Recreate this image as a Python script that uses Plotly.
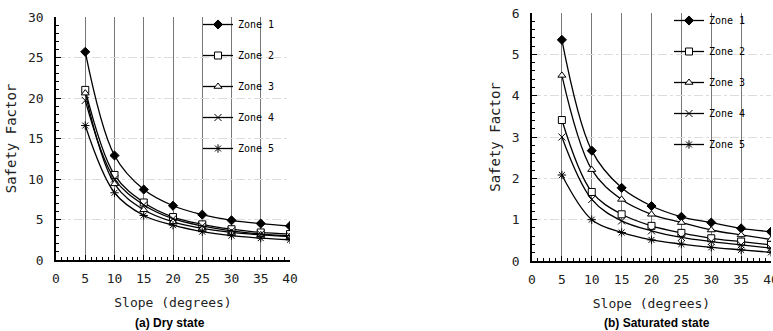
import plotly.graph_objects as go

slope = [5, 10, 15, 20, 25, 30, 35, 40]
zones = ["Zone 1", "Zone 2", "Zone 3", "Zone 4", "Zone 5"]

dry = {
    "Zone 1": [25.7, 12.9, 8.7, 6.7, 5.6, 4.9, 4.5, 4.2],
    "Zone 2": [21.0, 10.5, 7.1, 5.3, 4.4, 3.8, 3.4, 3.2],
    "Zone 3": [20.6, 9.4, 6.2, 4.7, 3.9, 3.4, 3.1, 2.9],
    "Zone 4": [19.7, 10.0, 6.8, 5.1, 4.2, 3.6, 3.2, 3.0],
    "Zone 5": [16.6, 8.3, 5.5, 4.3, 3.5, 3.0, 2.7, 2.5],
}
saturated = {
    "Zone 1": [5.35, 2.67, 1.77, 1.33, 1.07, 0.93, 0.79, 0.71],
    "Zone 2": [3.41, 1.67, 1.13, 0.85, 0.68, 0.55, 0.47, 0.39],
    "Zone 3": [4.49, 2.21, 1.49, 1.13, 0.93, 0.75, 0.63, 0.52],
    "Zone 4": [3.00, 1.49, 0.97, 0.73, 0.57, 0.47, 0.39, 0.31],
    "Zone 5": [2.08, 1.00, 0.69, 0.51, 0.41, 0.33, 0.27, 0.21],
}

x_ticks = [0, 5, 10, 15, 20, 25, 30, 35, 40]
dry_ticks = [0, 5, 10, 15, 20, 25, 30]
sat_ticks = [0, 1, 2, 3, 4, 5, 6]

symbols = {
    "Zone 1": ("diamond", "black"),
    "Zone 2": ("square", "white"),
    "Zone 3": ("triangle-up", "white"),
    "Zone 4": ("x-thin-open", "black"),
    "Zone 5": ("asterisk-open", "black"),
}

W, H = 773, 331
def px(x):
    return x / W
def py(y):
    return 1 - y / H

fig = go.Figure()
for panel, data, xa, ya, leg in [(0, dry, "x", "y", "legend"), (1, saturated, "x2", "y2", "legend2")]:
    for z in zones:
        sym, fill = symbols[z]
        fig.add_trace(go.Scatter(
            x=slope, y=data[z], name=z, mode="lines+markers",
            xaxis=xa, yaxis=ya, legend=leg, legendgroup=f"{panel}{z}",
            line=dict(color="black", width=1.3, shape="spline", smoothing=1.0),
            marker=dict(symbol=sym, size=7, color=fill,
                        line=dict(color="black", width=1)),
        ))

mono = "DejaVu Sans Mono"
xtfont = dict(family=mono, size=13, color="#222")
ytfont = dict(family=mono, size=14, color="#222")
axis_common = dict(showline=True, linecolor="black", linewidth=1.6,
                   ticks="inside", tickcolor="black", ticklen=5,
                   tickfont=dict(family=mono, size=13, color="#222"),
                   zeroline=False, automargin=False)

fig.update_layout(
    width=W, height=H, margin=dict(l=0, r=0, t=0, b=0),
    paper_bgcolor="white", plot_bgcolor="white",
    xaxis=dict(domain=[px(56), px(290)], range=[0, 40], tickvals=x_ticks,
               showgrid=True, gridcolor="#777", gridwidth=1, ticklabelstandoff=6,
               minor=dict(dtick=1, ticks="inside", ticklen=3, tickcolor="black", showgrid=False),
               title=dict(text="Slope (degrees)", font=xtfont, standoff=12),
               anchor="y", **axis_common),
    yaxis=dict(domain=[py(260), py(17)], range=[0, 30], tickvals=dry_ticks,
               showgrid=True, gridcolor="#ddd", griddash="dashdot", ticklabelstandoff=8,
               minor=dict(dtick=1, ticks="inside", ticklen=3, tickcolor="black", showgrid=False),
               title=dict(text="Safety Factor", font=ytfont, standoff=8),
               anchor="x", **axis_common),
    xaxis2=dict(domain=[px(532), px(771)], range=[0, 40], tickvals=x_ticks,
                showgrid=True, gridcolor="#777", gridwidth=1, ticklabelstandoff=6,
                ticklabeloverflow="allow",
                minor=dict(dtick=1, ticks="inside", ticklen=3, tickcolor="black", showgrid=False),
                title=dict(text="Slope (degrees)", font=xtfont, standoff=12),
                anchor="y2", **axis_common),
    yaxis2=dict(domain=[py(261), py(13)], range=[0, 6], tickvals=sat_ticks,
                showgrid=True, gridcolor="#ddd", griddash="dashdot", ticklabelstandoff=8,
                minor=dict(dtick=0.2, ticks="inside", ticklen=3, tickcolor="black", showgrid=False),
                title=dict(text="Safety Factor", font=ytfont, standoff=8),
                anchor="x2", **axis_common),
    legend=dict(x=px(198), y=py(10), xanchor="left", yanchor="top",
                bgcolor="rgba(0,0,0,0)", tracegroupgap=12,
                font=dict(family=mono, size=10, color="black")),
    legend2=dict(x=px(669), y=py(6), xanchor="left", yanchor="top",
                 bgcolor="rgba(0,0,0,0)", tracegroupgap=12,
                 font=dict(family=mono, size=10, color="black")),
    showlegend=True,
    annotations=[
        dict(text="<b>(a) Dry state</b>", x=px(170), y=py(323), xref="paper", yref="paper",
             xanchor="center", yanchor="middle", showarrow=False,
             font=dict(family="Liberation Sans", size=12, color="black")),
        dict(text="<b>(b) Saturated state</b>", x=px(657), y=py(323), xref="paper", yref="paper",
             xanchor="center", yanchor="middle", showarrow=False,
             font=dict(family="Liberation Sans", size=12, color="black")),
    ],
)

fig.write_html(
    "out.html",
    config={"displayModeBar": False},
    post_script="document.body.style.margin='0';document.body.style.overflow='hidden';",
)
